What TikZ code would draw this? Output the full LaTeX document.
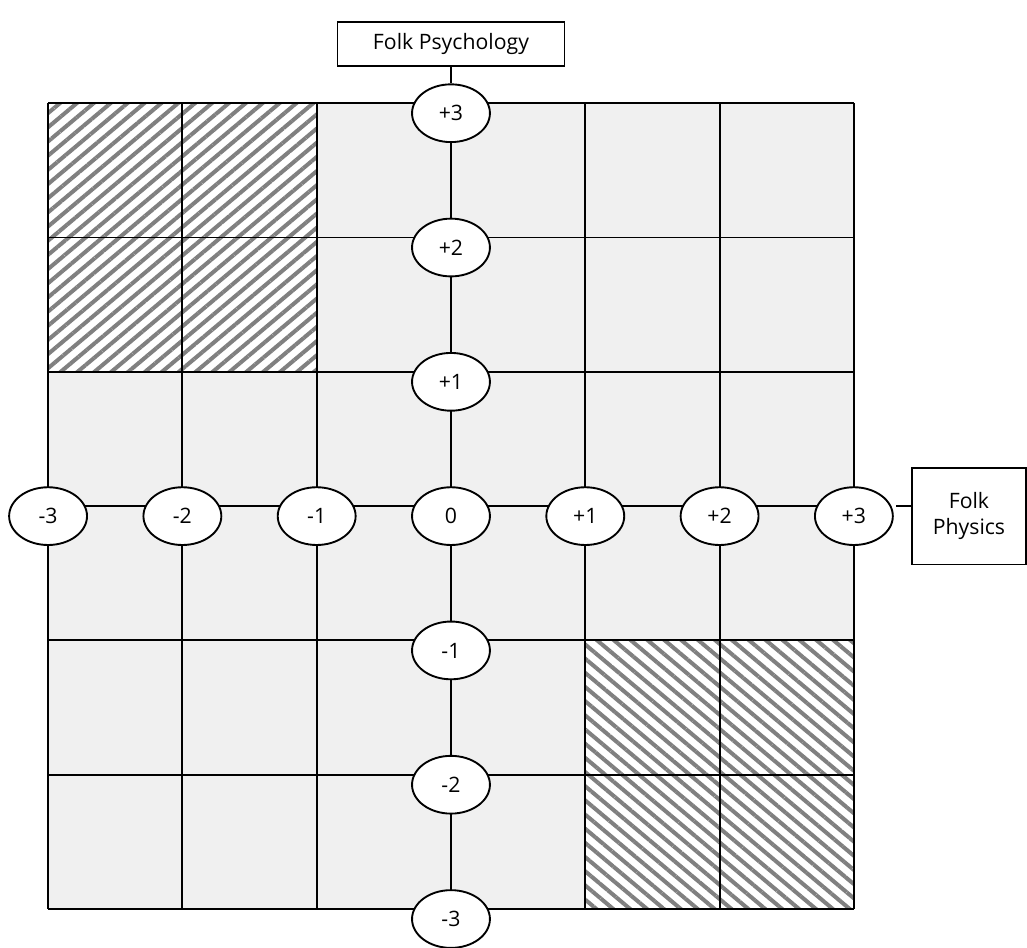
\documentclass[tikz,border=0pt]{standalone}
\usepackage{fontspec}
\setmainfont{Open Sans}
\usepackage{tikz}
\usetikzlibrary{shapes.geometric}
\usetikzlibrary{patterns.meta}
\definecolor{lgray}{RGB}{240, 240, 240}
\definecolor{hgray}{RGB}{128, 128, 128}

\begin{document}
\begin{tikzpicture}[scale = 2, line width = 0.8pt, font = \fontsize{9}{11}\selectfont,
	ellip/.style = {ellipse, draw, fill = white, inner sep = 0pt, minimum width = 1.16cm, minimum height = 0.86cm},
	box/.style = {rectangle, draw, fill = white, align = center, inner sep = 2pt}]
			\useasboundingbox (-3.358,-3.284) rectangle (4.289,3.768);
			% cells
			\fill[lgray] (-3,-3) rectangle (3,3);
			\fill[white] (-3,1) rectangle (-1,3);
			\fill[white] (1,-3) rectangle (3,-1);
			\fill[pattern = {Lines[angle = 40, distance = 4.6pt, line width = 1.7pt]}, pattern color = hgray] (-3,1) rectangle (-1,3);
			\fill[pattern = {Lines[angle = -40, distance = 4.6pt, line width = 1.7pt]}, pattern color = hgray] (1,-3) rectangle (3,-1);
			\draw[step = 1] (-3,-3) grid (3,3);
			% labels on the axes
			\node (p3) at (0,2.925) [ellip] {+3};
			\node (p2) at (0,1.925) [ellip] {+2};
			\node (p1) at (0,0.925) [ellip] {+1};
			\node (o) at (0,-0.075) [ellip] {0};
			\node (pm1) at (0,-1.075) [ellip] {-1};
			\node (pm2) at (0,-2.075) [ellip] {-2};
			\node (pm3) at (0,-3.075) [ellip] {-3};
			\node (hm3) at (-3,-0.075) [ellip] {-3};
			\node (hm2) at (-2,-0.075) [ellip] {-2};
			\node (hm1) at (-1,-0.075) [ellip] {-1};
			\node (h1) at (1,-0.075) [ellip] {+1};
			\node (h2) at (2,-0.075) [ellip] {+2};
			\node (h3) at (3,-0.075) [ellip] {+3};
			\node (psych) at (0,3.44) [box, minimum width = 3.38cm, minimum height = 0.66cm] {Folk Psychology};
			\node (phys) at (3.857,-0.075) [box, minimum width = 1.7cm, minimum height = 1.44cm] {Folk\\Physics};
			\draw (psych) edge (p3);
			\draw[shorten <= 0.04cm] (h3.east |- 0,0) -- (phys.west |- 0,0);
			\end{tikzpicture}
\end{document}
